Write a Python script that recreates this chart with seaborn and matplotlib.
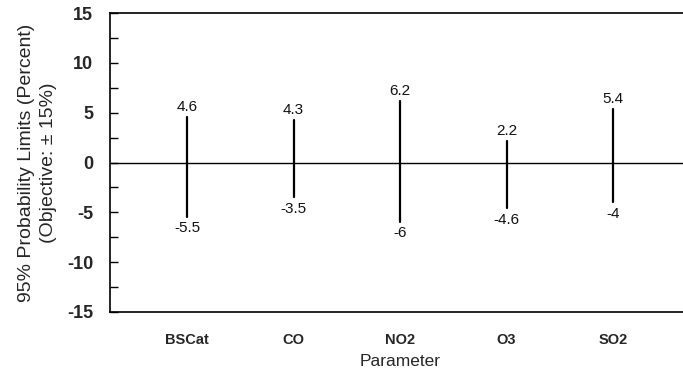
import matplotlib
matplotlib.use("Agg")
import matplotlib.pyplot as plt
import seaborn as sns
import pandas as pd
from matplotlib.ticker import MultipleLocator

parameters = ["BSCat", "CO", "NO2", "O3", "SO2"]
upper = [4.6, 4.3, 6.2, 2.2, 5.4]
lower = [-5.5, -3.5, -6, -4.6, -4]
upper_labels = ["4.6", "4.3", "6.2", "2.2", "5.4"]
lower_labels = ["-5.5", "-3.5", "-6", "-4.6", "-4"]

sns.set_theme(style="white")
plt.rcParams["font.family"] = ["Liberation Sans", "DejaVu Sans"]
plt.rcParams["axes.unicode_minus"] = False

df = pd.DataFrame({
    "Parameter": parameters * 2,
    "Limit": upper + lower,
})

fig = plt.figure(figsize=(6.83, 3.76), dpi=100)
ax = fig.add_axes([110 / 683, 1 - 312 / 376, 1.0 - 110 / 683 + 0.01, (312 - 13) / 376])

sns.lineplot(data=df, x="Parameter", y="Limit", units="Parameter", estimator=None,
             color="black", linewidth=1.6, ax=ax, sort=False)

ax.axhline(0, color="black", linewidth=1)

for i, (u, l, ul, ll) in enumerate(zip(upper, lower, upper_labels, lower_labels)):
    ax.annotate(ul, (i, u), xytext=(0, 2), textcoords="offset points",
                ha="center", va="bottom", fontsize=11, color="#111111")
    ax.annotate(ll, (i, l), xytext=(0, -3), textcoords="offset points",
                ha="center", va="top", fontsize=11, color="#111111")

ax.set_xlim(-0.723, 4.72)
ax.set_ylim(-15, 15)
ax.yaxis.set_major_locator(MultipleLocator(5))
ax.yaxis.set_minor_locator(MultipleLocator(2.5))
ax.tick_params(axis="y", which="both", direction="in", length=6, width=1,
               color="black", left=True, labelsize=13, pad=12)
ax.tick_params(axis="x", which="both", length=0, labelsize=10.5, pad=15)
for lab in ax.get_yticklabels():
    lab.set_fontweight("bold")
for lab in ax.get_xticklabels():
    lab.set_fontweight("bold")

ax.set_xlabel("Parameter", fontsize=12.5, labelpad=5)
ax.set_ylabel("95% Probability Limits (Percent)\n(Objective: \u00b1 15%)", fontsize=14,
              labelpad=7, linespacing=1.4)

for side in ["left", "top", "bottom", "right"]:
    ax.spines[side].set_color("black")
    ax.spines[side].set_linewidth(1.2)
ax.spines["right"].set_visible(False)

fig.savefig("out.png", dpi=100)
